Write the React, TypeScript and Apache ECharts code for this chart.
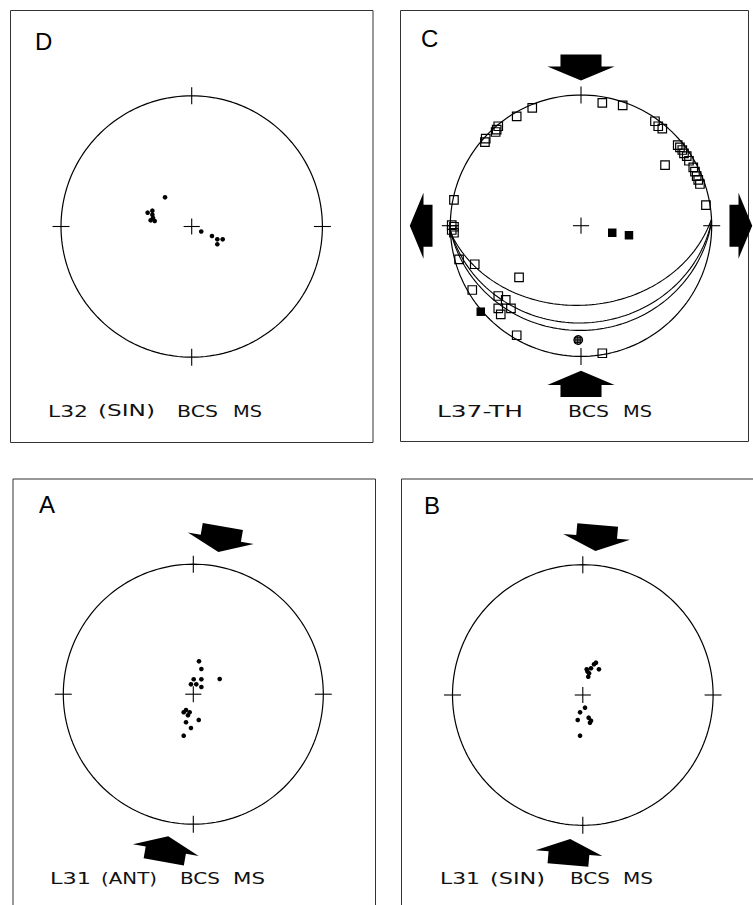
import React, { useEffect, useRef } from 'react';
import * as echarts from 'echarts';

type P = [number, number];

// ---------- DATA (positions in units of the primitive radius, y up) ----------
const dotsD: P[] = [
  [-0.204, 0.223], [-0.337, 0.106], [-0.301, 0.121], [-0.301, 0.090], [-0.314, 0.047],
  [-0.283, 0.042], [-0.296, 0.065], [0.073, -0.038], [0.155, -0.073], [0.196, -0.098],
  [0.237, -0.098], [0.196, -0.136],
];

const dotsA: P[] = [
  [0.044, 0.253], [0.062, 0.194], [0.003, 0.115], [0.062, 0.115], [-0.018, 0.076],
  [0.023, 0.076], [0.062, 0.055], [0.203, 0.117], [-0.056, -0.122], [-0.074, -0.139],
  [-0.028, -0.139], [-0.041, -0.162], [0.042, -0.198], [-0.056, -0.216], [-0.018, -0.260],
  [-0.074, -0.319],
];

const dotsB: P[] = [
  [0.030, 0.197], [0.048, 0.167], [0.063, 0.205], [0.086, 0.236], [0.101, 0.248],
  [0.124, 0.197], [0.042, 0.140], [0.036, 0.180], [0.017, -0.097], [-0.021, -0.133],
  [-0.039, -0.192], [0.045, -0.174], [0.063, -0.197], [0.055, -0.213], [-0.021, -0.312],
];

const openSquaresC: P[] = [
  [0.163, 0.939], [0.319, 0.921], [-0.373, 0.901], [-0.492, 0.837], [-0.633, 0.761],
  [-0.645, 0.735], [-0.653, 0.717], [-0.729, 0.666], [-0.735, 0.640], [0.566, 0.799],
  [0.591, 0.761], [0.622, 0.742], [0.740, 0.617], [0.757, 0.600], [0.775, 0.579],
  [0.788, 0.554], [0.809, 0.533], [0.826, 0.497], [0.859, 0.447], [0.872, 0.413],
  [0.885, 0.380], [0.897, 0.350], [0.910, 0.319], [0.643, 0.464], [0.956, 0.158],
  [-0.972, 0.197], [-0.989, 0.005], [-0.972, -0.008], [-0.989, -0.033], [-0.972, -0.054],
  [-0.933, -0.257], [-0.813, -0.295], [-0.474, -0.395], [-0.832, -0.492], [-0.633, -0.538],
  [-0.576, -0.568], [-0.633, -0.632], [-0.536, -0.632], [-0.614, -0.678], [-0.492, -0.838],
  [0.163, -0.976],
];
const filledSquaresC: P[] = [[0.239, -0.054], [0.367, -0.073], [-0.767, -0.658]];
const hatchedC: P[] = [[-0.021, -0.875]];

// great circles (planes): dip direction (deg from N) and dip (deg)
const planesDipDirC = [177, 178, 178];
const planesDipC = [39, 26.5, 21];

// stress arrows: azimuth (deg from N) and kind (1 = compression/inward, 0 = extension/outward)
const arrowAzA = [10, 190];
const arrowKindA = [1, 1];
const arrowAzB = [5, 185];
const arrowKindB = [1, 1];
const arrowAzC = [0, 180, 90, 270];
const arrowKindC = [1, 1, 0, 0];

const captionD = ['L32', '(SIN)', 'BCS', 'MS'];
const captionC = ['L37-TH', 'BCS', 'MS'];
const captionA = ['L31', '(ANT)', 'BCS', 'MS'];
const captionB = ['L31', '(SIN)', 'BCS', 'MS'];

// ---------- LAYOUT ----------
const INK = '#000';
const layout: Record<string, any> = {
  D: { cx: 191.7, cy: 226.5, r: 130.7, box: [10.5, 10.5, 362.5, 432], label: [35, 41.5], capY: 411.5, capX: [48, 98, 177, 233], capW: [40, 57, 41, 29] },
  C: { cx: 581, cy: 225.7, r: 130.7, box: [400.5, 10.5, 348, 431], label: [421, 38], capY: 411.5, capX: [437, 568, 623], capW: [86, 41, 29] },
  A: { cx: 193.3, cy: 694.2, r: 130, box: [13, 479, 362.5, 460], label: [39, 504], capY: 878.5, capX: [50, 101, 180, 233], capW: [41, 56, 40, 32] },
  B: { cx: 582.8, cy: 695, r: 130.3, box: [401.5, 479, 400, 460], label: [424, 505.5], capY: 878.5, capX: [440, 490, 570, 623], capW: [40, 55, 40, 30] },
};
const order = ['D', 'C', 'A', 'B'];
const captions: Record<string, string[]> = { D: captionD, C: captionC, A: captionA, B: captionB };

const D2R = Math.PI / 180;

function primitive(): P[] {
  const out: P[] = [];
  for (let a = 0; a <= 360; a += 2) out.push([Math.cos(a * D2R), Math.sin(a * D2R)]);
  return out;
}

function greatCircle(dipDir: number, dip: number): P[] {
  const dd = dipDir * D2R, dp = dip * D2R;
  const sE = Math.sin(dd - Math.PI / 2), sN = Math.cos(dd - Math.PI / 2);
  const dE = Math.sin(dd) * Math.cos(dp), dN = Math.cos(dd) * Math.cos(dp), dZ = Math.sin(dp);
  const out: P[] = [];
  for (let a = 0; a <= 180; a += 2) {
    const t = a * D2R, c = Math.cos(t), s = Math.sin(t);
    const vE = c * sE + s * dE, vN = c * sN + s * dN, vZ = s * dZ;
    const plunge = Math.asin(Math.max(-1, Math.min(1, vZ)));
    const trend = Math.atan2(vE, vN);
    const rho = Math.SQRT2 * Math.sin((Math.PI / 2 - plunge) / 2);
    out.push([rho * Math.sin(trend), rho * Math.cos(trend)]);
  }
  return out;
}

function measure(word: string): number {
  const c = document.createElement('canvas').getContext('2d');
  if (!c) return word.length * 9;
  c.font = '15px "DejaVu Sans"';
  return c.measureText(word).width || word.length * 9;
}

export default function App() {
  const ref = useRef<HTMLDivElement>(null);
  useEffect(() => {
    document.body.style.margin = '0';
    if (!ref.current) return;
    const chart = echarts.init(ref.current, null, { renderer: 'svg' });

    const grids: any[] = [];
    const xAxes: any[] = [];
    const yAxes: any[] = [];
    const series: any[] = [];
    const graphic: any[] = [];

    const tickSeg = (gi: number) => ({
      type: 'custom',
      xAxisIndex: gi, yAxisIndex: gi,
      clip: false,
      silent: true,
      data: [[0], [90], [180], [270], [-1]],
      renderItem: (_p: any, api: any) => {
        const az = api.value(0);
        if (az < 0) {
          const c1 = api.coord([-0.062, 0]), c2 = api.coord([0.062, 0]);
          const c3 = api.coord([0, -0.062]), c4 = api.coord([0, 0.062]);
          return {
            type: 'group', children: [
              { type: 'line', shape: { x1: c1[0], y1: c1[1], x2: c2[0], y2: c2[1] }, style: { stroke: INK, lineWidth: 1.1 } },
              { type: 'line', shape: { x1: c3[0], y1: c3[1], x2: c4[0], y2: c4[1] }, style: { stroke: INK, lineWidth: 1.1 } },
            ],
          };
        }
        const ux = Math.sin(az * D2R), uy = Math.cos(az * D2R);
        const a = api.coord([ux * 0.935, uy * 0.935]);
        const b = api.coord([ux * 1.065, uy * 1.065]);
        return { type: 'line', shape: { x1: a[0], y1: a[1], x2: b[0], y2: b[1] }, style: { stroke: INK, lineWidth: 1.1 } };
      },
    });

    const arrowSeries = (gi: number, az: number[], kind: number[]) => ({
      type: 'custom',
      xAxisIndex: gi, yAxisIndex: gi,
      clip: false,
      silent: true,
      data: az.map((a, i) => [a, kind[i]]),
      renderItem: (_p: any, api: any) => {
        const a = api.value(0) * D2R;
        const k = api.value(1);
        const ux = Math.sin(a), uy = Math.cos(a);
        const px = Math.cos(a), py = -Math.sin(a);
        const pt = (d: number, w: number) => api.coord([ux * d + px * w, uy * d + py * w]);
        let pts: number[][];
        if (k === 1) {
          const d1 = 1.31, d2 = 1.218, d3 = 1.11, ws = 0.157, wh = 0.257;
          pts = [pt(d1, -ws), pt(d1, ws), pt(d2, ws), pt(d2, wh), pt(d3, 0), pt(d2, -wh), pt(d2, -ws)];
        } else {
          const d1 = 1.136, d2 = 1.205, d3 = 1.31, ws = 0.161, wh = 0.2525;
          pts = [pt(d1, -ws), pt(d1, ws), pt(d2, ws), pt(d2, wh), pt(d3, 0), pt(d2, -wh), pt(d2, -ws)];
        }
        return { type: 'polygon', shape: { points: pts }, style: { fill: INK } };
      },
    });

    order.forEach((id, gi) => {
      const L = layout[id];
      grids.push({ left: L.cx - L.r, top: L.cy - L.r, width: 2 * L.r, height: 2 * L.r });
      xAxes.push({ type: 'value', gridIndex: gi, min: -1, max: 1, show: false });
      yAxes.push({ type: 'value', gridIndex: gi, min: -1, max: 1, show: false });

      series.push({
        type: 'line', xAxisIndex: gi, yAxisIndex: gi, data: primitive(), showSymbol: false,
        clip: false, silent: true, lineStyle: { color: INK, width: 1.2 },
      });
      series.push(tickSeg(gi));

      const [bx, by, bw, bh] = L.box;
      graphic.push({ type: 'rect', shape: { x: bx, y: by, width: bw, height: bh }, style: { fill: 'none', stroke: '#333', lineWidth: 1 }, silent: true });
      graphic.push({
        type: 'text', x: L.label[0], y: L.label[1], silent: true,
        style: { text: id, fontSize: 24, fontFamily: 'Liberation Sans', fill: INK, align: 'left', verticalAlign: 'middle' },
      });
      captions[id].forEach((w, i) => {
        const nat = measure(w);
        graphic.push({
          type: 'text', x: L.capX[i], y: L.capY, scaleX: L.capW[i] / nat, silent: true,
          style: { text: w, fontSize: 15, fontFamily: 'DejaVu Sans', fill: '#111', align: 'left', verticalAlign: 'middle' },
        });
      });
    });

    const dotStyle = { color: INK, opacity: 1 };
    // D
    series.push({ type: 'scatter', xAxisIndex: 0, yAxisIndex: 0, data: dotsD, symbol: 'circle', symbolSize: 4.6, clip: false, itemStyle: dotStyle });
    // C
    planesDipDirC.forEach((dd, i) => {
      series.push({
        type: 'line', xAxisIndex: 1, yAxisIndex: 1, data: greatCircle(dd, planesDipC[i]), showSymbol: false,
        clip: false, silent: true, lineStyle: { color: INK, width: 1.1 },
      });
    });
    series.push({
      type: 'scatter', xAxisIndex: 1, yAxisIndex: 1, data: openSquaresC, symbol: 'rect', symbolSize: 8.5, clip: false,
      itemStyle: { color: 'rgba(255,255,255,0)', borderColor: INK, borderWidth: 1.2, opacity: 1 },
    });
    series.push({
      type: 'scatter', xAxisIndex: 1, yAxisIndex: 1, data: filledSquaresC, symbol: 'rect', symbolSize: 8.5, clip: false,
      itemStyle: dotStyle,
    });
    series.push({
      type: 'custom', xAxisIndex: 1, yAxisIndex: 1, data: hatchedC, clip: false, silent: true,
      encode: { x: 0, y: 1 },
      renderItem: (_p: any, api: any) => {
        const [x, y] = api.coord([api.value(0), api.value(1)]);
        const rr = 4.3;
        const st = { stroke: INK, lineWidth: 0.9 };
        const kids: any[] = [
          { type: 'circle', shape: { cx: x, cy: y, r: rr }, style: { fill: '#fff', stroke: INK, lineWidth: 1.3 } },
        ];
        [-2.4, -0.8, 0.8, 2.4].forEach((o) => {
          const h = Math.sqrt(rr * rr - o * o);
          kids.push({ type: 'line', shape: { x1: x + o, y1: y - h, x2: x + o, y2: y + h }, style: st });
          kids.push({ type: 'line', shape: { x1: x - h, y1: y + o, x2: x + h, y2: y + o }, style: st });
        });
        return { type: 'group', children: kids };
      },
    });
    series.push(arrowSeries(1, arrowAzC, arrowKindC));
    // A
    series.push({ type: 'scatter', xAxisIndex: 2, yAxisIndex: 2, data: dotsA, symbol: 'circle', symbolSize: 4.6, clip: false, itemStyle: dotStyle });
    series.push(arrowSeries(2, arrowAzA, arrowKindA));
    // B
    series.push({ type: 'scatter', xAxisIndex: 3, yAxisIndex: 3, data: dotsB, symbol: 'circle', symbolSize: 4.6, clip: false, itemStyle: dotStyle });
    series.push(arrowSeries(3, arrowAzB, arrowKindB));

    chart.setOption({
      animation: false,
      backgroundColor: '#fff',
      grid: grids,
      xAxis: xAxes,
      yAxis: yAxes,
      series,
      graphic,
    });
    return () => chart.dispose();
  }, []);
  return <div ref={ref} style={{ width: 753, height: 905 }} />;
}
